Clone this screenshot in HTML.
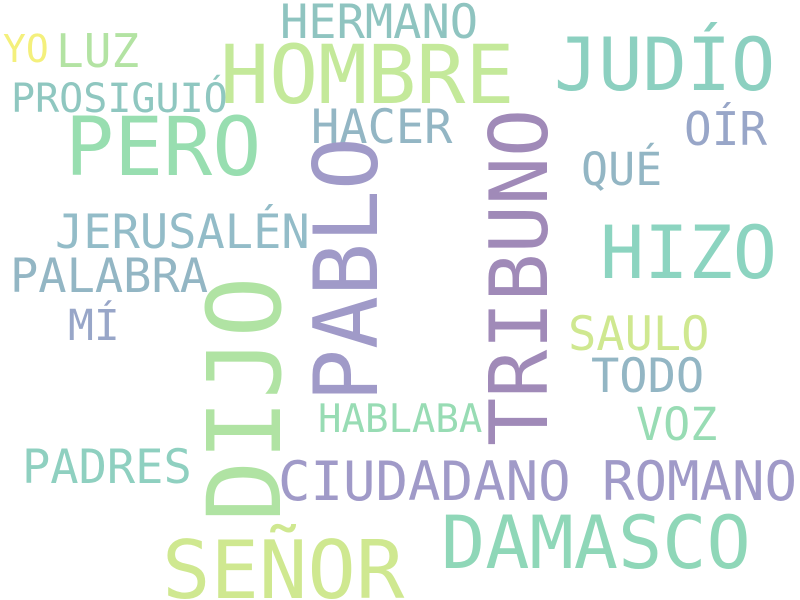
<!DOCTYPE html>
<html><head><meta charset="utf-8"><style>
html,body{margin:0;padding:0;background:#fff;width:800px;height:600px;overflow:hidden}
svg text{font-family:"DejaVu Sans Mono","Liberation Mono",monospace}
</style></head><body>
<svg width="800" height="600">
<rect width="800" height="600" fill="#fff"/>
<text x="280" y="38" font-size="47" fill="#8fc4c0">HERMANO</text>
<text x="3" y="62" font-size="38" fill="#f4f07c">YO</text>
<text x="56" y="67" font-size="46" fill="#b3e3a3">LUZ</text>
<text x="220" y="103" font-size="81.5" fill="#c4e99a">HOMBRE</text>
<text x="554" y="90" font-size="73.5" fill="#8cd0c0">JUDÍO</text>
<text x="11" y="112" font-size="40" fill="#8fc7c0">PROSIGUIÓ</text>
<text x="65" y="175" font-size="81.5" fill="#98deb0">PERO</text>
<text x="311" y="143" font-size="47" fill="#93b6c4">HACER</text>
<text x="684" y="145" font-size="46" fill="#98a6c8">OÍR</text>
<text x="581" y="185" font-size="45" fill="#93b6c4">QUÉ</text>
<text transform="translate(377,402) rotate(-90)" font-size="88" fill="#a09ac8">PABLO</text>
<text transform="translate(547,446) rotate(-90)" font-size="80" fill="#a08ab8">TRIBUNO</text>
<text transform="translate(280,522) rotate(-90)" font-size="102" fill="#b0e3a3">DIJO</text>
<text x="55" y="248" font-size="47" fill="#93bcc8">JERUSALÉN</text>
<text x="600" y="278" font-size="73.5" fill="#8cd4c0">HIZO</text>
<text x="10" y="292" font-size="47" fill="#93b6c4">PALABRA</text>
<text x="68" y="340" font-size="43" fill="#98a6c8">MÍ</text>
<text x="568" y="350" font-size="47" fill="#cfe890">SAULO</text>
<text x="591" y="392" font-size="47" fill="#93b6c4">TODO</text>
<text x="318" y="432" font-size="39" fill="#98dcb4">HABLABA</text>
<text x="636" y="440" font-size="45" fill="#98dcb4">VOZ</text>
<text x="22" y="483" font-size="47" fill="#8fd0c0">PADRES</text>
<text x="278" y="500" font-size="54" fill="#a09ac8">CIUDADANO</text>
<text x="602" y="500" font-size="54" fill="#a09ac8">ROMANO</text>
<text x="441" y="568" font-size="73.5" fill="#8fd7b8">DAMASCO</text>
<text x="162" y="598" font-size="80.5" fill="#cfe890">SEÑOR</text>
</svg>
</body></html>
